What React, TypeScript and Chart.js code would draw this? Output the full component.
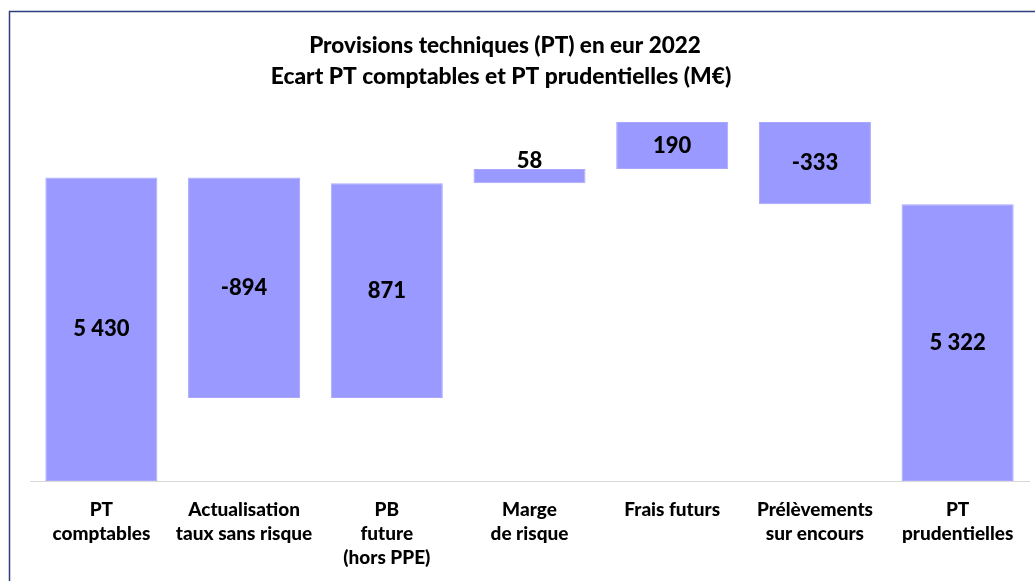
import React, { useEffect, useRef } from "react";
import { Chart, registerables } from "chart.js";

Chart.register(...registerables);

const categories: string[][] = [
  ["PT", "comptables"],
  ["Actualisation", "taux sans risque"],
  ["PB", "future", "(hors PPE)"],
  ["Marge", "de risque"],
  ["Frais futurs"],
  ["Prélèvements", "sur encours"],
  ["PT", "prudentielles"],
];
const values: number[] = [5430, -894, 871, 58, 190, -333, 5322];
const isTotal: boolean[] = [true, false, false, false, false, false, true];
const titleLines: string[] = [
  "Provisions techniques (PT) en eur 2022",
  "Ecart PT comptables et PT prudentielles (M€)",
];
const AXIS_MIN = 4200;
const AXIS_MAX = 5700;

const FONT = "Lato, 'Open Sans', sans-serif";
const WEIGHT = "900";

function fmt(v: number): string {
  const s = Math.abs(v).toString().replace(/\B(?=(\d{3})+(?!\d))/g, " ");
  return (v < 0 ? "-" : "") + s;
}

export default function App() {
  const ref = useRef<HTMLCanvasElement | null>(null);

  useEffect(() => {
    if (!ref.current) return;
    let running = 0;
    const bars: [number, number][] = values.map((v, i) => {
      if (isTotal[i]) {
        running = v;
        return [AXIS_MIN, v];
      }
      const a = running;
      const b = running + v;
      running = b;
      return [Math.min(a, b), Math.max(a, b)];
    });

    const decor = {
      id: "decor",
      afterDraw(chart: any) {
        const ctx = chart.ctx;
        ctx.save();
        ctx.strokeStyle = "#2F3E7C";
        ctx.lineWidth = 1.5;
        ctx.beginPath();
        ctx.moveTo(9.5, 581);
        ctx.lineTo(9.5, 11.5);
        ctx.lineTo(1035, 11.5);
        ctx.stroke();
        ctx.fillStyle = "#000";
        ctx.textAlign = "center";
        ctx.textBaseline = "middle";
        ctx.font = `${WEIGHT} 22.5px ${FONT}`;
        ctx.fillText(titleLines[0], 505, 46);
        ctx.font = `${WEIGHT} 22.8px ${FONT}`;
        ctx.fillText(titleLines[1], 501, 77);
        const meta = chart.getDatasetMeta(0);
        ctx.font = `${WEIGHT} 22px ${FONT}`;
        meta.data.forEach((el: any, i: number) => {
          const top = Math.min(el.y, el.base);
          const bot = Math.max(el.y, el.base);
          const h = bot - top;
          const y = h < 30 ? top - 8 : (top + bot) / 2;
          ctx.fillText(fmt(values[i]), el.x, y);
        });
        ctx.restore();
      },
    };

    const chart = new Chart(ref.current, {
      type: "bar",
      data: {
        labels: categories,
        datasets: [
          {
            data: bars as any,
            backgroundColor: "#9999FF",
            borderColor: "#A8A8FF",
            borderWidth: 1,
            borderSkipped: false,
            categoryPercentage: 1,
            barPercentage: 0.785,
          },
        ],
      },
      options: {
        animation: false,
        responsive: false,
        layout: { padding: { left: 30, right: 6, top: 111, bottom: 0 } },
        plugins: {
          legend: { display: false },
          title: { display: false },
          tooltip: { enabled: false },
        },
        scales: {
          x: {
            grid: { display: false },
            border: { display: true, color: "#D9D9D9", width: 1 },
            ticks: {
              color: "#000",
              padding: 9,
              maxRotation: 0,
              autoSkip: false,
              font: { family: FONT, size: 19, weight: WEIGHT as any, lineHeight: 24 / 19 },
            },
            afterFit: (scale: any) => {
              scale.height = 100;
            },
          },
          y: {
            display: false,
            min: AXIS_MIN,
            max: AXIS_MAX,
          },
        },
      },
      plugins: [decor],
    });
    return () => chart.destroy();
  }, []);

  return (
    <div style={{ position: "fixed", left: 0, top: 0, width: 1035, height: 581, background: "#fff" }}>
      <canvas ref={ref} width={1035} height={581} style={{ display: "block" }} />
    </div>
  );
}
